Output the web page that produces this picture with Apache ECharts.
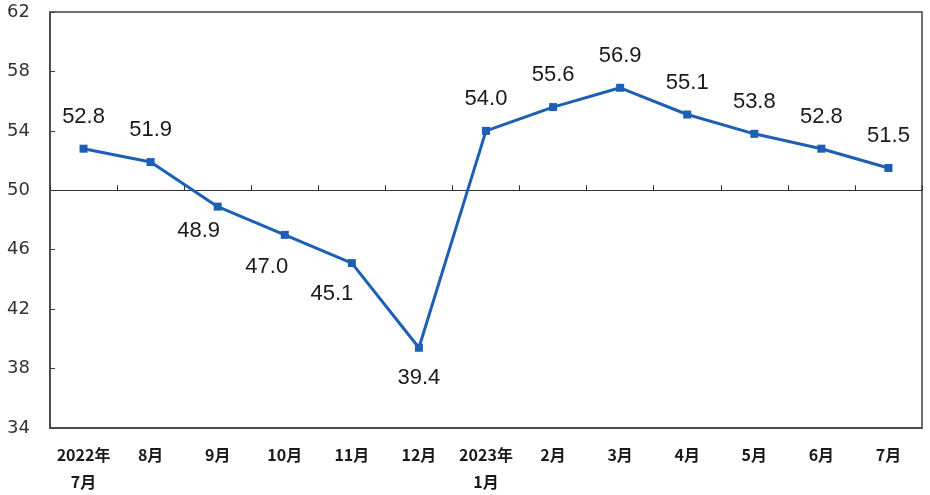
<!DOCTYPE html>
<html>
<head>
<meta charset="utf-8">
<script src="https://cdn.jsdelivr.net/npm/echarts@6/dist/echarts.min.js"></script>
<style>
html,body{margin:0;padding:0;background:#fff;}
#chart{width:930px;height:495px;}
</style>
</head>
<body>
<div id="chart"></div>
<script>
const categories = ['2022年\n7月','8月','9月','10月','11月','12月','2023年\n1月','2月','3月','4月','5月','6月','7月'];
const values = [52.8, 51.9, 48.9, 47.0, 45.1, 39.4, 54.0, 55.6, 56.9, 55.1, 53.8, 52.8, 51.5];
const yTicks = {min: 34, max: 62, interval: 4};
const refLine = 50;

// label placement (style only), by point index
const labelStyle = {
  2: {position: 'bottom', distance: 9, offset: [-19, 0]},
  3: {position: 'bottom', distance: 17, offset: [-18, 0]},
  4: {position: 'bottom', distance: 16, offset: [-20, 0]},
  5: {position: 'bottom', distance: 15, offset: [0, 0]}
};

const gridTop = 12, gridBottom = 67;
const plotH = 495 - gridTop - gridBottom;
const refOffset = -(yTicks.max - refLine) / (yTicks.max - yTicks.min) * plotH;

const seriesData = values.map((v, i) => {
  const o = {value: v};
  if (labelStyle[i]) o.label = labelStyle[i];
  return o;
});

const chart = echarts.init(document.getElementById('chart'));
chart.setOption({
  animation: false,
  backgroundColor: '#ffffff',
  grid: {left: 50, right: 8, top: gridTop, bottom: gridBottom, show: true,
         borderColor: '#404040', borderWidth: 1.5, backgroundColor: 'transparent'},
  xAxis: [
    {
      type: 'category', data: categories, position: 'bottom', boundaryGap: true,
      axisLine: {show: true, lineStyle: {color: '#404040', width: 1.5}},
      axisTick: {show: false},
      axisLabel: {interval: 0, margin: 13, color: '#1a1a1a', fontSize: 16,
                  fontFamily: 'Noto Sans CJK SC', fontWeight: 'bold', lineHeight: 27}
    },
    {
      type: 'category', data: categories, position: 'top', offset: refOffset, boundaryGap: true,
      axisLine: {show: true, lineStyle: {color: '#303030', width: 1}},
      axisTick: {show: true, length: 5, lineStyle: {color: '#303030'}},
      axisLabel: {show: false}
    }
  ],
  yAxis: {
    type: 'value', min: yTicks.min, max: yTicks.max, interval: yTicks.interval,
    axisLine: {show: true, lineStyle: {color: '#404040', width: 1.5}},
    axisTick: {show: true, inside: true, length: 5, lineStyle: {color: '#404040'}},
    splitLine: {show: false},
    axisLabel: {margin: 20, color: '#333', fontSize: 18, fontFamily: 'DejaVu Sans'}
  },
  series: [{
    type: 'line', xAxisIndex: 0, data: seriesData,
    symbol: 'rect', symbolSize: 8,
    lineStyle: {color: '#1c5fb4', width: 3},
    itemStyle: {color: '#1c5fb4'},
    label: {show: true, position: 'top', distance: 17, color: '#1a1a1a', fontSize: 22,
            fontFamily: 'Liberation Sans',
            formatter: p => p.value.toFixed(1)}
  }]
});
</script>
</body>
</html>
